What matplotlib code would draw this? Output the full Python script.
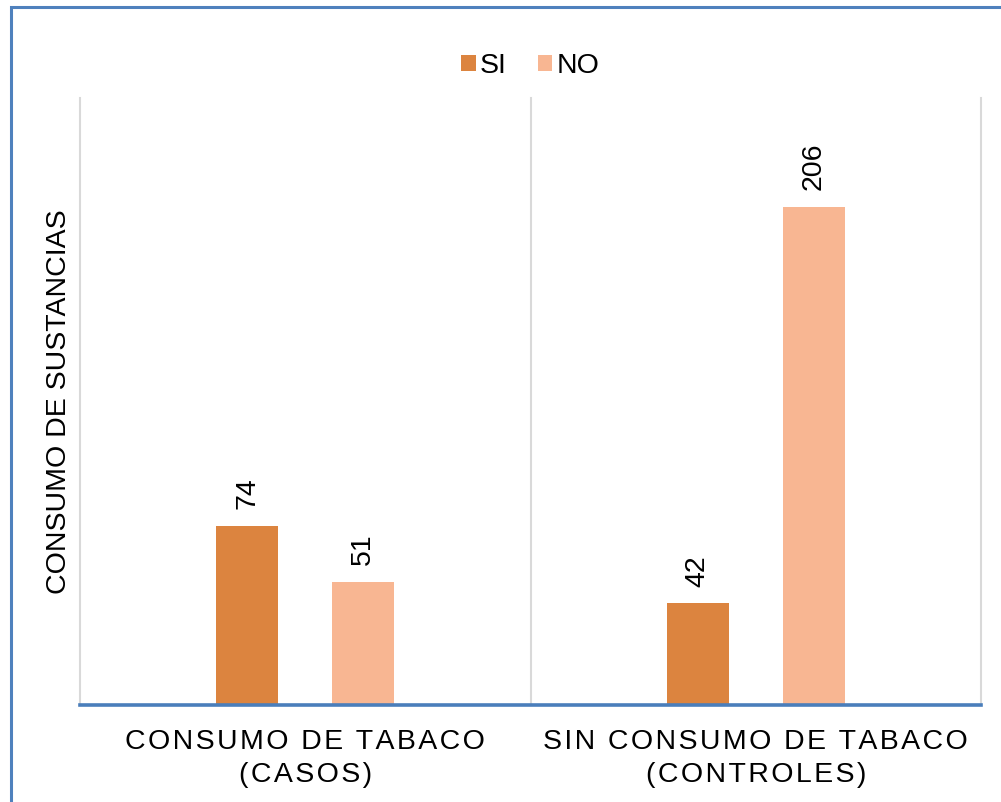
import numpy as np
import matplotlib
matplotlib.use('Agg')
import matplotlib.pyplot as plt
import matplotlib.patches as patches

plt.rcParams['font.family'] = ['Liberation Sans', 'DejaVu Sans']

# datos del grafico
grupos = ['CONSUMO DE TABACO\n(CASOS)', 'SIN CONSUMO DE TABACO\n(CONTROLES)']
series = ['SI', 'NO']
valores_si = [74, 42]
valores_no = [51, 206]
colores = ['#DC843F', '#F8B692']


def espaciado(texto):
    # separa las letras con un espacio fino para imitar el interletrado
    return '\n'.join('\u200a'.join(linea) for linea in texto.split('\n'))


def main():
    fig = plt.figure(figsize=(10.01, 8.02), dpi=100)
    W, H = 1001, 802

    # marco azul del grafico
    marco = patches.Rectangle((10.5 / W, -0.1), 1.2, 1.1 - 6.5 / H,
                              transform=fig.transFigure, fill=False,
                              edgecolor='#4F81BD', linewidth=2.2)
    fig.add_artist(marco)

    ax = fig.add_axes([80 / W, 1 - 705 / H, 901 / W, 607 / H])
    x = np.arange(len(grupos))
    ancho = 0.138
    desp = 0.129

    barras_si = ax.bar(x - desp, valores_si, ancho, color=colores[0], label=series[0], zorder=3)
    barras_no = ax.bar(x + desp, valores_no, ancho, color=colores[1], label=series[1], zorder=3)

    # etiquetas de valor verticales
    for barras in (barras_si, barras_no):
        for b in barras:
            ax.annotate(str(int(b.get_height())),
                        (b.get_x() + b.get_width() / 2, b.get_height()),
                        xytext=(0, 12), textcoords='offset points',
                        ha='center', va='bottom', rotation=90, fontsize=20.5)

    ax.set_xlim(-0.5, 1.5)
    ax.set_ylim(0, 251)

    # lineas de separacion entre categorias
    for xv in (-0.5, 0.5, 1.5):
        ax.axvline(xv, color='#D9D9D9', linewidth=1.5, zorder=1, clip_on=False)

    for lado in ('top', 'right', 'left'):
        ax.spines[lado].set_visible(False)
    ax.spines['bottom'].set_color('#4A7EBB')
    ax.spines['bottom'].set_linewidth(2.6)
    ax.spines['bottom'].set_zorder(4)

    ax.set_yticks([])
    ax.set_xticks(x)
    ax.set_xticklabels([espaciado(g) for g in grupos], fontsize=20.5, linespacing=1.38)
    ax.tick_params(axis='x', length=0, pad=17)

    ax.set_ylabel('CONSUMO DE SUSTANCIAS', fontsize=20.5, labelpad=6)

    ax.legend(loc='center', bbox_to_anchor=(0.5, 1.052), ncol=2, frameon=False,
              fontsize=20.5, handlelength=0.5, handleheight=0.5,
              handletextpad=0.15, columnspacing=1.1)

    fig.savefig('out.png', dpi=100)


if __name__ == '__main__':
    main()
